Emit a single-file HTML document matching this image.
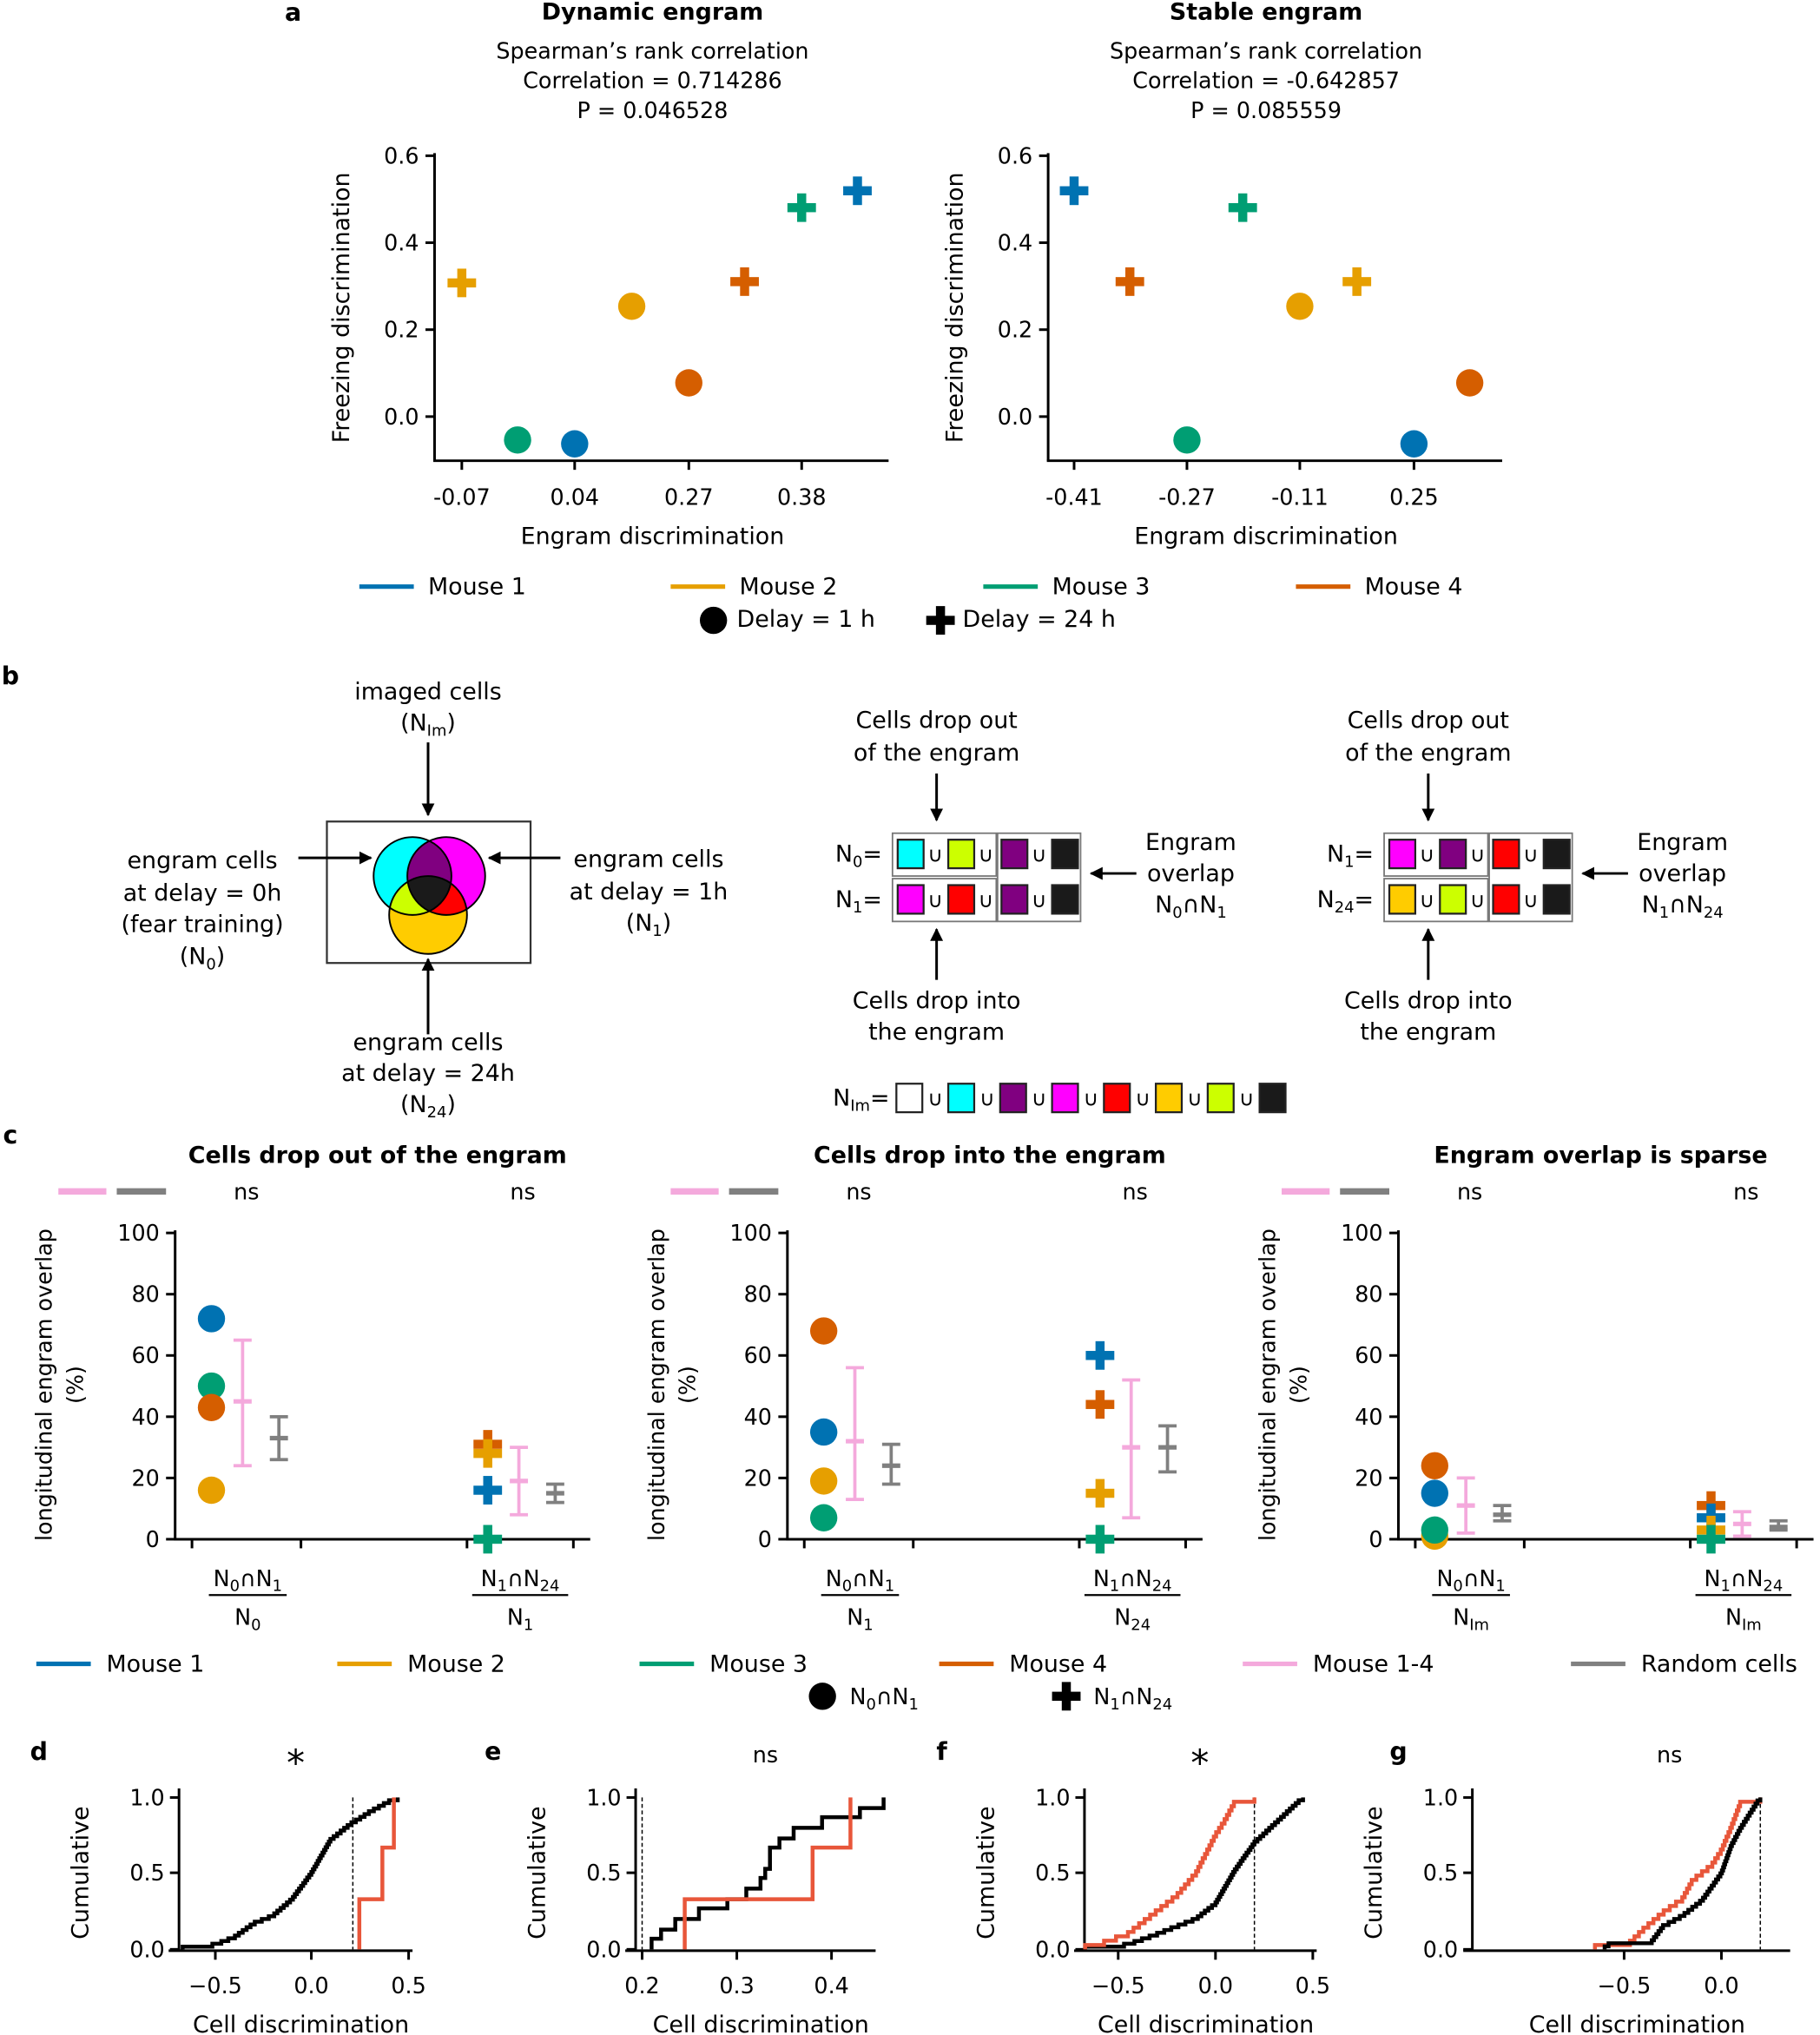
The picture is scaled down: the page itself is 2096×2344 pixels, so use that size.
<!DOCTYPE html>
<html><head><meta charset="utf-8">
<style>
html,body{margin:0;padding:0;background:#fff;}
svg{display:block;}
text{font-family:"DejaVu Sans","Liberation Sans",sans-serif;fill:#000;}
</style></head>
<body>
<svg id="s" xmlns="http://www.w3.org/2000/svg" width="2096" height="2344" viewBox="0 0 1403 1568" preserveAspectRatio="none">
<defs>
<clipPath id="cc"><circle cx="318" cy="675" r="30"/></clipPath>
<clipPath id="cm"><circle cx="344" cy="675" r="30"/></clipPath>
<clipPath id="cy"><circle cx="330" cy="705" r="30"/></clipPath>
<marker id="ah" markerWidth="10" markerHeight="10" refX="9" refY="5" orient="auto" markerUnits="userSpaceOnUse"><path d="M0,0 L10,5 L0,10 z" fill="#000"/></marker>
</defs>
<g id="g"></g>
</svg>
<script>
var o='';
function T(x,y,s,sz,anc,extra){o+='<text x="'+x+'" y="'+y+'" font-size="'+(sz||18)+'" text-anchor="'+(anc||'middle')+'" '+(extra||'')+'>'+s+'</text>';}
function L(x1,y1,x2,y2,c,w,extra){o+='<line x1="'+x1+'" y1="'+y1+'" x2="'+x2+'" y2="'+y2+'" stroke="'+(c||'#000')+'" stroke-width="'+(w||2)+'" '+(extra||'')+'/>';}
function C(x,y,c,r){o+='<circle cx="'+x+'" cy="'+y+'" r="'+(r||10.5)+'" fill="'+c+'"/>';}
function P(x,y,c){o+='<rect x="'+(x-11)+'" y="'+(y-3.5)+'" width="22" height="7" fill="'+c+'"/><rect x="'+(x-3.5)+'" y="'+(y-11)+'" width="7" height="22" fill="'+c+'"/>';}
var B='#0072B2',O='#E69F00',G='#009E73',V='#D55E00',PK='#F4A9DC',GR='#808080';
// ===== Panel a
T(226,16,'a',19,'middle','font-weight="bold"');
function panelA(ax,title,corr,p,ticks,pts){
 var cx=ax+168;
 T(cx,15,title,18,'middle','font-weight="bold"');
 T(cx,45,"Spearman’s rank correlation",17);
 T(cx,68,'Correlation = '+corr,17);
 T(cx,91,'P = '+p,17);
 L(ax,118,ax,355);L(ax-1,355,ax+350,355);
 var yt=[[0.6,120],[0.4,187],[0.2,254],['0.0',321]];
 yt.forEach(function(t){L(ax-7,t[1],ax,t[1]);T(ax-12,t[1]+6,t[0],17,'end');});
 ticks.forEach(function(t){L(t[1],355,t[1],362);T(t[1],389,t[0],17);});
 T(ax-66,237,'Freezing discrimination',18,'middle','transform="rotate(-90 '+(ax-66)+' 237)"');
 T(cx,419,'Engram discrimination',18);
 pts.forEach(function(q){ if(q[3]) P(q[0],q[1],q[2]); else C(q[0],q[1],q[2]);});
}
panelA(335,'Dynamic engram','0.714286','0.046528',[['-0.07',356],['0.04',443],['0.27',531],['0.38',618]],
 [[356,218,O,1],[487,236,O],[399,339,G],[443,342,B],[531,295,V],[574,217,V,1],[618,160,G,1],[661,147,B,1]]);
panelA(808,'Stable engram','-0.642857','0.085559',[['-0.41',828],['-0.27',915],['-0.11',1002],['0.25',1090]],
 [[828,147,B,1],[871,217,V,1],[958,160,G,1],[915,339,G],[1002,236,O],[1046,217,O,1],[1090,342,B],[1133,295,V]]);
[[277,'Mouse 1',B],[517,'Mouse 2',O],[758,'Mouse 3',G],[999,'Mouse 4',V]].forEach(function(m){L(m[0],452,m[0]+42,452,m[2],3.5);T(m[0]+53,458,m[1],18,'start');});
C(550,478,'#000');T(568,483,'Delay = 1 h',18,'start');P(725,478,'#000');T(742,483,'Delay = 24 h',18,'start');
// ===== Panel b
T(8,527,'b',19,'middle','font-weight="bold"');
o+='<rect x="252" y="633" width="157" height="109" fill="none" stroke="#333" stroke-width="1.5"/>';
o+='<circle cx="318" cy="675" r="30" fill="#00FFFF"/><circle cx="344" cy="675" r="30" fill="#FF00FF"/><circle cx="330" cy="705" r="30" fill="#FFCC00"/>';
o+='<circle cx="344" cy="675" r="30" fill="#800080" clip-path="url(#cc)"/>';
o+='<circle cx="330" cy="705" r="30" fill="#CCFF00" clip-path="url(#cc)"/>';
o+='<circle cx="330" cy="705" r="30" fill="#FF0000" clip-path="url(#cm)"/>';
o+='<g clip-path="url(#cc)"><g clip-path="url(#cm)"><circle cx="330" cy="705" r="30" fill="#1a1a1a"/></g></g>';
o+='<circle cx="318" cy="675" r="30" fill="none" stroke="#000" stroke-width="1.3"/><circle cx="344" cy="675" r="30" fill="none" stroke="#000" stroke-width="1.3"/><circle cx="330" cy="705" r="30" fill="none" stroke="#000" stroke-width="1.3"/>';
function A(x1,y1,x2,y2){L(x1,y1,x2,y2,'#000',2,'marker-end="url(#ah)"');}
T(330,539,'imaged cells',18);T(330,563,'(N<tspan font-size="12" dy="4">Im</tspan><tspan dy="-4">)</tspan>',18);A(330,572,330,628);
T(156,669,'engram cells',18);T(156,694,'at delay = 0h',18);T(156,718,'(fear training)',18);T(156,743,'(N<tspan font-size="12" dy="4">0</tspan><tspan dy="-4">)</tspan>',18);A(230,661,286,661);
T(500,668,'engram cells',18);T(500,693,'at delay = 1h',18);T(500,717,'(N<tspan font-size="12" dy="4">1</tspan><tspan dy="-4">)</tspan>',18);A(432,661,377,661);
A(330,797,330,739);T(330,809,'engram cells',18);T(330,833,'at delay = 24h',18);T(330,857,'(N<tspan font-size="12" dy="4">24</tspan><tspan dy="-4">)</tspan>',18);
function sq(x,y,c){o+='<rect x="'+x+'" y="'+y+'" width="20" height="22" fill="'+c+'" stroke="#222" stroke-width="1.5"/>';}
function cup(x,y){T(x,y,'∪',16);}
function diag(dx,lab1,lab2,c1,c2,sub){
 var x=722+dx;
 T(x,561,'Cells drop out',18);T(x,586,'of the engram',18);A(x,596,x,632);
 T(x,777,'Cells drop into',18);T(x,801,'the engram',18);A(x,755,x,716);
 o+='<rect x="'+(688+dx)+'" y="642" width="80" height="33" fill="none" stroke="#777" stroke-width="1.2"/>';
 o+='<rect x="'+(688+dx)+'" y="677" width="80" height="33" fill="none" stroke="#777" stroke-width="1.2"/>';
 o+='<rect x="'+(769+dx)+'" y="642" width="64" height="68" fill="none" stroke="#777" stroke-width="1.2"/>';
 T(680+dx,664,lab1,18,'end');T(680+dx,699,lab2,18,'end');
 [[647,c1],[682,c2]].forEach(function(r){var y=r[0];sq(692+dx,y,r[1][0]);cup(721+dx,y+17);sq(731+dx,y,r[1][1]);cup(760+dx,y+17);sq(772+dx,y,r[1][2]);cup(801+dx,y+17);sq(811+dx,y,r[1][3]);});
 T(918+dx,655,'Engram',18);T(918+dx,679,'overlap',18);T(918+dx,703,sub,18);A(876+dx,673,841+dx,673);
}
function sb(s){return '<tspan font-size="12" dy="4">'+s+'</tspan><tspan dy="-4">';}
diag(0,'N'+sb('0')+'=</tspan>','N'+sb('1')+'=</tspan>',['#00FFFF','#CCFF00','#800080','#1a1a1a'],['#FF00FF','#FF0000','#800080','#1a1a1a'],'N'+sb('0')+'∩N</tspan>'+sb('1')+'</tspan>');
diag(379,'N'+sb('1')+'=</tspan>','N'+sb('24')+'=</tspan>',['#FF00FF','#800080','#FF0000','#1a1a1a'],['#FFCC00','#CCFF00','#FF0000','#1a1a1a'],'N'+sb('1')+'∩N</tspan>'+sb('24')+'</tspan>');
T(642,852,'N'+sb('Im')+'=</tspan>',18,'start');
['#fff','#00FFFF','#800080','#FF00FF','#FF0000','#FFCC00','#CCFF00','#1a1a1a'].forEach(function(c,i){var x=691+i*40;sq(x,835,c);if(i<7)cup(x+30,852);});
// ===== Panel c
T(8,881,'c',19,'middle','font-weight="bold"');
function yv(v){return 1186-2.36*v;}
function ebar(x,m,lo,hi,c){L(x,yv(lo),x,yv(hi),c,2.5);L(x-7,yv(lo),x+7,yv(lo),c,2.5);L(x-7,yv(hi),x+7,yv(hi),c,2.5);L(x-7,yv(m),x+7,yv(m),c,3.5);}
function panelC(dx,title,den1,den2,g1,g2,e){
 var ax=135+dx;
 T(291+dx,896,title,18,'middle','font-weight="bold"');
 L(45+dx,918,82+dx,918,PK,5);L(90+dx,918,128+dx,918,GR,5);
 T(190+dx,924,'ns',17);T(403+dx,924,'ns',17);
 L(ax,948,ax,1186);L(ax-1,1186,455+dx,1186);
 [100,80,60,40,20,0].forEach(function(v){L(ax-7,yv(v),ax,yv(v));T(ax-12,yv(v)+6,v,17,'end');});
 [148,232,360,442].forEach(function(x){L(x+dx,1186,x+dx,1193);});
 T(40+dx,1067,'longitudinal engram overlap',17,'middle','transform="rotate(-90 '+(40+dx)+' 1067)"');
 T(64+dx,1067,'(%)',17,'middle','transform="rotate(-90 '+(64+dx)+' 1067)"');
 T(191+dx,1222,den1[0],17);L(161+dx,1229,221+dx,1229,'#000',1.5);T(191+dx,1252,den1[1],17);
 T(401+dx,1222,den2[0],17);L(364+dx,1229,438+dx,1229,'#000',1.5);T(401+dx,1252,den2[1],17);
 g1.forEach(function(q){C(163+dx,yv(q[0]),q[1]);});
 g2.forEach(function(q){P(376+dx,yv(q[0]),q[1]);});
 ebar(187+dx,e[0][0],e[0][1],e[0][2],PK);ebar(215+dx,e[1][0],e[1][1],e[1][2],GR);
 ebar(400+dx,e[2][0],e[2][1],e[2][2],PK);ebar(428+dx,e[3][0],e[3][1],e[3][2],GR);
}
var N01='N'+sb('0')+'∩N</tspan>'+sb('1')+'</tspan>', N124='N'+sb('1')+'∩N</tspan>'+sb('24')+'</tspan>';
panelC(0,'Cells drop out of the engram',[N01,'N'+sb('0')+'</tspan>'],[N124,'N'+sb('1')+'</tspan>'],
 [[72,B],[50,G],[43,V],[16,O]],[[31,V],[28,O],[16,B],[0,G]],[[45,24,65],[33,26,40],[19,8,30],[15,12,18]]);
panelC(472,'Cells drop into the engram',[N01,'N'+sb('1')+'</tspan>'],[N124,'N'+sb('24')+'</tspan>'],
 [[68,V],[35,B],[19,O],[7,G]],[[60,B],[44,V],[15,O],[0,G]],[[32,13,56],[24,18,31],[30,7,52],[30,22,37]]);
panelC(943,'Engram overlap is sparse',[N01,'N'+sb('Im')+'</tspan>'],[N124,'N'+sb('Im')+'</tspan>'],
 [[24,V],[15,B],[1,O],[3,G]],[[11,V],[7,B],[3,O],[0,G]],[[11,2,20],[8,6,11],[5,1,9],[4,3,6]]);
[[28,'Mouse 1',B],[260,'Mouse 2',O],[493,'Mouse 3',G],[724,'Mouse 4',V],[958,'Mouse 1-4',PK],[1211,'Random cells',GR]].forEach(function(m){L(m[0],1282,m[0]+42,1282,m[2],3.5);T(m[0]+54,1288,m[1],18,'start');});
C(634,1307,'#000');T(655,1313,N01,17,'start');P(822,1307,'#000');T(843,1313,N124,17,'start');
// ===== Panels d-g
var RD='#E8563A';
function ecdf(n,cp,xf,c){
 // cp: [[x,p],...] increasing; inverse interpolate
 function inv(p){for(var k=1;k<cp.length;k++){if(p<=cp[k][1]){var a=cp[k-1],b=cp[k];if(b[1]==a[1])return b[0];return a[0]+(p-a[1])/(b[1]-a[1])*(b[0]-a[0]);}}return cp[cp.length-1][0];}
 var d='M'+xf(cp[0][0])+',1502';
 for(var i=1;i<=n;i++){var x=inv((i-0.5)/n);if(i==1)x=cp[0][0];if(i==n)x=cp[cp.length-1][0];d+=' H'+xf(x).toFixed(1)+' V'+(1502-117*i/n).toFixed(1);}
 o+='<path d="'+d+'" fill="none" stroke="'+c+'" stroke-width="3"/>';
}
function steps(pts,xf,c){var d='M'+xf(pts[0][0])+',1502';pts.forEach(function(p){d+=' H'+xf(p[0])+' V'+(1502-117*p[1]);});o+='<path d="'+d+'" fill="none" stroke="'+c+'" stroke-width="3"/>';}
function axD(ax,x0,x1,lab,ticks,star,sx,dash){
 T(lab[1],1356,lab[0],19,'middle','font-weight="bold"');
 if(star=='*')T(sx,1368,'*',28);else T(sx,1358,'ns',17);
 L(ax,1378,ax,1503);L(x0,1503,x1,1503);
 [['1.0',1385],['0.5',1443],['0.0',1502]].forEach(function(t){L(ax-7,t[1],ax,t[1]);T(ax-11,t[1]+6,t[0],17,'end');});
 ticks.forEach(function(t){L(t[1],1503,t[1],1510);T(t[1],1536,t[0],17);});
 T((x0+x1)/2+8,1566,'Cell discrimination',18);
 T(ax-70,1443,'Cumulative',18,'middle','transform="rotate(-90 '+(ax-70)+' 1443)"');
 L(dash,1385,dash,1502,'#000',1,'stroke-dasharray="3,2"');
}
var xd=function(v){return 240+148*v;};
axD(138,130,318,['d',30],[['−0.5',166],['0.0',240],['0.5',315]],'*',228,272);
ecdf(55,[[-0.67,0],[-0.5,0.03],[-0.4,0.08],[-0.3,0.17],[-0.2,0.22],[-0.1,0.33],[0,0.5],[0.1,0.72],[0.2,0.82],[0.3,0.9],[0.4,0.97],[0.45,1]],xd,'#000');
steps([[0.25,0.33],[0.37,0.67],[0.43,1]],xd,RD);
var xe=function(v){return 495+730*(v-0.2);};
axD(490,482,675,['e',380],[['0.2',495],['0.3',568],['0.4',641]],'ns',590,495);
steps([[0.21,0.07],[0.22,0.13],[0.235,0.2],[0.26,0.27],[0.29,0.33],[0.31,0.4],[0.325,0.47],[0.33,0.53],[0.335,0.67],[0.345,0.73],[0.36,0.8],[0.39,0.87],[0.43,0.93],[0.455,1.0]],xe,'#000');
steps([[0.245,0.33],[0.38,0.67],[0.42,1]],xe,RD);
var xf=function(v){return 937+150*v;};
axD(836,828,1015,['f',726],[['−0.5',862],['0.0',937],['0.5',1012]],'*',925,967);
ecdf(55,[[-0.67,0],[-0.45,0.03],[-0.3,0.1],[-0.1,0.2],[0,0.3],[0.1,0.52],[0.2,0.7],[0.3,0.82],[0.45,1]],xf,'#000');
ecdf(35,[[-0.67,0],[-0.6,0.03],[-0.45,0.1],[-0.3,0.25],[-0.2,0.35],[-0.1,0.5],[0,0.75],[0.05,0.85],[0.1,0.97],[0.2,1]],xf,RD);
var xg=function(v){return 1327+150*v;};
axD(1135,1128,1380,['g',1078],[['−0.5',1252],['0.0',1327]],'ns',1287,1357);
ecdf(35,[[-0.65,0],[-0.62,0.03],[-0.48,0.03],[-0.4,0.13],[-0.3,0.24],[-0.2,0.33],[-0.15,0.45],[-0.05,0.55],[0,0.65],[0.05,0.8],[0.1,0.97],[0.2,1]],xg,RD);
ecdf(50,[[-0.6,0],[-0.58,0.03],[-0.37,0.03],[-0.3,0.15],[-0.2,0.22],[-0.1,0.32],[0,0.5],[0.05,0.68],[0.1,0.8],[0.2,1]],xg,'#000');
document.getElementById('g').innerHTML=o;
</script>
</body></html>
